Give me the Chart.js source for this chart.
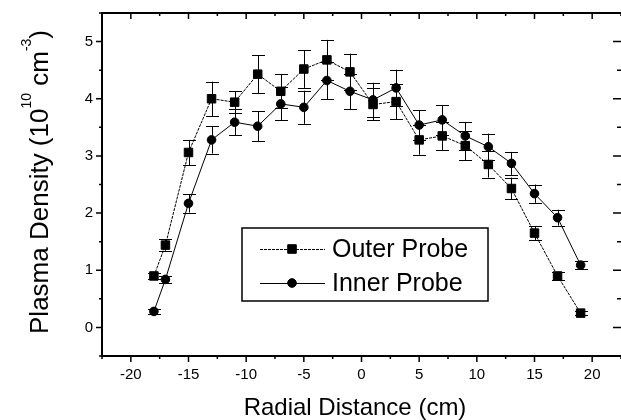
<!DOCTYPE html>
<html>
<head>
<meta charset="utf-8">
<script src="https://cdn.jsdelivr.net/npm/chart.js@4.4.0/dist/chart.umd.min.js"></script>
<style>
    body { margin: 0; background: #fff; }
    canvas { display: block; }
</style>
</head>
<body>
<canvas id="densityChart" width="621" height="420"></canvas>
<script>
// Radial plasma density profile, outer vs inner probe

const radialPositions = [-18, -17, -15, -13, -11, -9, -7, -5, -3, -1, 1, 3, 5, 7, 9, 11, 13, 15, 17, 19];

const outerDensity = [0.90, 1.44, 3.06, 4.00, 3.94, 4.43, 4.13, 4.52, 4.68, 4.47, 3.90, 3.95, 3.28, 3.35, 3.18, 2.85, 2.43, 1.65, 0.90, 0.25];
const outerError   = [0.06, 0.10, 0.22, 0.30, 0.19, 0.33, 0.30, 0.33, 0.35, 0.32, 0.28, 0.31, 0.26, 0.25, 0.25, 0.23, 0.19, 0.12, 0.07, 0.04];

const innerDensity = [0.28, 0.84, 2.17, 3.28, 3.59, 3.52, 3.91, 3.85, 4.32, 4.13, 3.98, 4.19, 3.54, 3.63, 3.35, 3.16, 2.87, 2.34, 1.92, 1.09];
const innerError   = [0.04, 0.06, 0.16, 0.24, 0.23, 0.26, 0.29, 0.29, 0.33, 0.31, 0.30, 0.32, 0.26, 0.26, 0.24, 0.23, 0.20, 0.16, 0.14, 0.07];

const seriesLabels = ['Outer Probe', 'Inner Probe'];

const FONT = '"Liberation Sans", Arial, sans-serif';

function toPoints(ys) {
    return radialPositions.map((x, i) => ({ x: x, y: ys[i] }));
}

// vertical error bars with caps
const errorBarPlugin = {
    id: 'errorBars',
    beforeDatasetsDraw(chart) {
        const ctx = chart.ctx;
        const xs = chart.scales.x;
        const ys = chart.scales.y;
        ctx.save();
        ctx.strokeStyle = '#000';
        ctx.lineWidth = 1;
        chart.data.datasets.forEach(ds => {
            ds.data.forEach((p, i) => {
                const e = ds.errors[i];
                const px = Math.round(xs.getPixelForValue(p.x)) + 0.5;
                const top = ys.getPixelForValue(p.y + e);
                const bot = ys.getPixelForValue(p.y - e);
                ctx.beginPath();
                ctx.moveTo(px, top);
                ctx.lineTo(px, bot);
                ctx.moveTo(px - 6.5, Math.round(top) + 0.5);
                ctx.lineTo(px + 6.5, Math.round(top) + 0.5);
                ctx.moveTo(px - 6.5, Math.round(bot) + 0.5);
                ctx.lineTo(px + 6.5, Math.round(bot) + 0.5);
                ctx.stroke();
            });
        });
        ctx.restore();
    }
};

// axis box, in/out ticks, titles and the boxed legend
const framePlugin = {
    id: 'frame',
    afterDraw(chart) {
        const ctx = chart.ctx;
        const a = chart.chartArea;
        const xs = chart.scales.x;
        const ys = chart.scales.y;
        const rightEdge = Math.min(a.right, chart.width);
        ctx.save();
        ctx.strokeStyle = '#000';
        ctx.fillStyle = '#000';

        // box (right side falls off the canvas)
        ctx.lineWidth = 2;
        ctx.beginPath();
        ctx.moveTo(a.right, a.top);
        ctx.lineTo(a.left, a.top);
        ctx.lineTo(a.left, a.bottom);
        ctx.lineTo(a.right, a.bottom);
        ctx.stroke();

        ctx.lineWidth = 1.5;
        ys.ticks.forEach(t => {
            const major = Number.isInteger(t.value);
            const py = ys.getPixelForValue(t.value);
            const len = major ? 6 : 3;
            ctx.beginPath();
            ctx.moveTo(a.left, py);
            ctx.lineTo(a.left - len, py);
            ctx.moveTo(rightEdge, py);
            ctx.lineTo(rightEdge - (major ? 8 : 4), py);
            ctx.stroke();
        });
        xs.ticks.forEach(t => {
            const major = Math.abs(t.value % 5) < 1e-6;
            const px = xs.getPixelForValue(t.value);
            const len = major ? 6 : 3;
            ctx.beginPath();
            ctx.moveTo(px, a.bottom);
            ctx.lineTo(px, a.bottom + len);
            ctx.moveTo(px, a.top);
            ctx.lineTo(px, a.top + len);
            ctx.stroke();
        });

        // x title
        ctx.font = '24px ' + FONT;
        ctx.textAlign = 'center';
        ctx.textBaseline = 'alphabetic';
        ctx.fillText('Radial Distance (cm)', 355, 415);

        // y title with superscripts
        const parts = [
            { t: 'Plasma Density (10', size: 26, rise: 0 },
            { t: '10', size: 14, rise: 17 },
            { t: ' cm', size: 26, rise: 0 },
            { t: '-3', size: 14, rise: 17 },
            { t: ')', size: 26, rise: 0 }
        ];
        let total = 0;
        parts.forEach(p => {
            ctx.font = p.size + 'px ' + FONT;
            p.w = ctx.measureText(p.t).width;
            total += p.w;
        });
        ctx.translate(48, 182);
        ctx.rotate(-Math.PI / 2);
        ctx.textAlign = 'left';
        let cx = -total / 2;
        parts.forEach(p => {
            ctx.font = p.size + 'px ' + FONT;
            ctx.fillText(p.t, cx, -p.rise);
            cx += p.w;
        });
        ctx.setTransform(1, 0, 0, 1, 0, 0);

        // legend
        const bx = 242, by = 228, bw = 246, bh = 73;
        ctx.fillStyle = '#fff';
        ctx.fillRect(bx, by, bw, bh);
        ctx.lineWidth = 1.5;
        ctx.strokeRect(bx, by, bw, bh);
        ctx.fillStyle = '#000';
        ctx.font = '25px ' + FONT;
        ctx.textBaseline = 'middle';
        chart.data.datasets.forEach((ds, i) => {
            const ly = 249 + i * 34;
            ctx.lineWidth = 1;
            ctx.setLineDash(ds.borderDash || []);
            ctx.beginPath();
            ctx.moveTo(260, ly + 0.5);
            ctx.lineTo(325, ly + 0.5);
            ctx.stroke();
            ctx.setLineDash([]);
            Chart.helpers.drawPoint(ctx, {
                pointStyle: ds.pointStyle,
                radius: ds.pointRadius,
                rotation: 0,
                borderWidth: 1
            }, 292, ly);
            ctx.fill();
            ctx.fillText(ds.label, 332, ly + 1);
        });
        ctx.restore();
    }
};

new Chart(document.getElementById('densityChart'), {
    type: 'line',
    data: {
        datasets: [
            {
                label: seriesLabels[0],
                data: toPoints(outerDensity),
                errors: outerError,
                borderColor: '#000',
                backgroundColor: '#000',
                borderWidth: 1,
                borderDash: [3, 1],
                pointStyle: 'rect',
                pointRadius: 6,
                pointBackgroundColor: '#000',
                pointBorderColor: '#000',
                tension: 0
            },
            {
                label: seriesLabels[1],
                data: toPoints(innerDensity),
                errors: innerError,
                borderColor: '#000',
                backgroundColor: '#000',
                borderWidth: 1,
                pointStyle: 'circle',
                pointRadius: 4.3,
                pointBackgroundColor: '#000',
                pointBorderColor: '#000',
                tension: 0
            }
        ]
    },
    options: {
        responsive: false,
        animation: false,
        layout: {
            autoPadding: false,
            padding: { top: 13, right: -2, left: 0, bottom: 0 }
        },
        plugins: {
            legend: { display: false },
            tooltip: { enabled: false }
        },
        scales: {
            x: {
                type: 'linear',
                min: -22.5,
                max: 22.5,
                grid: { display: false, drawTicks: true, tickLength: 10 },
                border: { display: false },
                ticks: {
                    stepSize: 2.5,
                    autoSkip: false,
                    maxRotation: 0,
                    padding: 0,
                    color: '#000',
                    font: { family: FONT, size: 15 },
                    callback: v => (Math.abs(v % 5) < 1e-6 ? String(v) : '')
                },
                afterFit: s => {
                    s.height = 64;
                }
            },
            y: {
                min: -0.5,
                max: 5.5,
                grid: { display: false, drawTicks: false },
                border: { display: false },
                ticks: {
                    stepSize: 0.5,
                    autoSkip: false,
                    padding: 9,
                    color: '#000',
                    font: { family: FONT, size: 15 },
                    callback: v => (Number.isInteger(v) ? String(v) : '')
                },
                afterFit: s => {
                    s.width = 102;
                    s.paddingTop = 0;
                    s.paddingBottom = 0;
                }
            }
        }
    },
    plugins: [errorBarPlugin, framePlugin]
});
</script>
</body>
</html>
